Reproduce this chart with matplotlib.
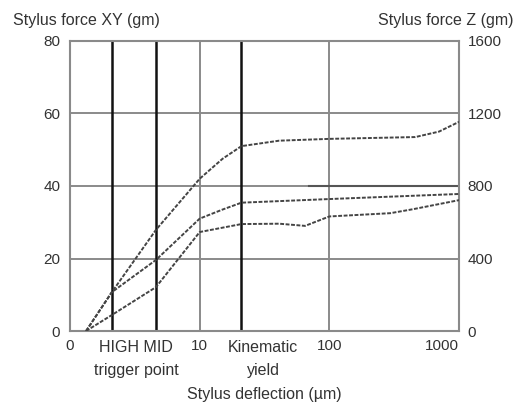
import numpy as np
import matplotlib.pyplot as plt

plt.rcParams['font.family'] = ['Liberation Sans', 'DejaVu Sans']

# stylus deflection (um) vs stylus force XY (gm)
x_upper = [1.33, 2.1, 4.6, 10, 15, 21, 41, 100, 460, 700, 1000]
y_upper = [0, 10.7, 27.9, 42, 47.5, 51, 52.5, 53, 53.5, 55, 57.7]

x_middle = [1.33, 2.1, 4.6, 10, 15, 21, 100, 1000]
y_middle = [0, 10.7, 19.6, 31, 33.5, 35.4, 36.4, 37.8]

x_lower = [1.33, 2.1, 4.6, 10, 21, 41, 65, 100, 295, 442, 1000]
y_lower = [0, 4.4, 12.1, 27.3, 29.5, 29.6, 29, 31.6, 32.5, 33.6, 36.1]

# trigger points / kinematic yield markers
x_high, x_mid, x_kin = 2.1, 4.6, 21

x_ticks = [1, 10, 100, 1000]
x_ticklabels = ['0', '10', '100', '1000']
y_ticks = [0, 20, 40, 60, 80]
z_ticks = [0, 400, 800, 1200, 1600]

txt = '#333333'
grid_c = '#8a8a8a'

fig = plt.figure(figsize=(5.17, 4.05), dpi=100)
ax = fig.add_axes([0.1354, 0.1827, 0.7525, 0.7161])

ax.set_xscale('log')
ax.set_xlim(1, 1000)
ax.set_ylim(0, 80)

# grid
for yv in [20, 40, 60]:
    ax.axhline(yv, color=grid_c, lw=1.4, zorder=1)
for xv in [10, 100]:
    ax.axvline(xv, color=grid_c, lw=1.4, zorder=1)
ax.plot([70, 1000], [40, 40], color='#555555', lw=1.5, zorder=1)

for xv in [x_high, x_mid, x_kin]:
    ax.axvline(xv, color='#111111', lw=1.8, zorder=2)

ls = (0, (2, 0.8))
for xs, ys in [(x_upper, y_upper), (x_middle, y_middle), (x_lower, y_lower)]:
    ax.plot(xs, ys, color='#444444', lw=1.4, ls=ls, zorder=3)

for s in ax.spines.values():
    s.set_color(grid_c)
    s.set_linewidth(1.5)

ax.set_xticks(x_ticks)
ax.set_xticklabels(x_ticklabels)
ax.minorticks_off()
ax.set_yticks(y_ticks)
ax.tick_params(length=0, labelsize=11, colors=txt, pad=7)
ax.tick_params(axis='x', pad=6)
ax.get_xticklabels()[-1].set_horizontalalignment('right')

ax2 = ax.twinx()
ax2.set_ylim(0, 1600)
ax2.set_yticks(z_ticks)
ax2.tick_params(length=0, labelsize=11, colors=txt, pad=6)
for s in ax2.spines.values():
    s.set_visible(False)

fs = 11.5
fig.text(13/517, 1 - 20/405, 'Stylus force XY (gm)', fontsize=fs, color=txt, va='center', ha='left')
fig.text(513/517, 1 - 20/405, 'Stylus force Z (gm)', fontsize=fs, color=txt, va='center', ha='right')
fig.text(136/517, 1 - 348/405, 'HIGH MID', fontsize=fs, color=txt, va='center', ha='center')
fig.text(136/517, 1 - 371/405, 'trigger point', fontsize=fs, color=txt, va='center', ha='center')
fig.text(263/517, 1 - 348/405, 'Kinematic', fontsize=fs, color=txt, va='center', ha='center')
fig.text(263/517, 1 - 371/405, 'yield', fontsize=fs, color=txt, va='center', ha='center')
fig.text(264/517, 1 - 395/405, 'Stylus deflection (µm)', fontsize=fs, color=txt, va='center', ha='center')

fig.savefig('out.png', dpi=100)
